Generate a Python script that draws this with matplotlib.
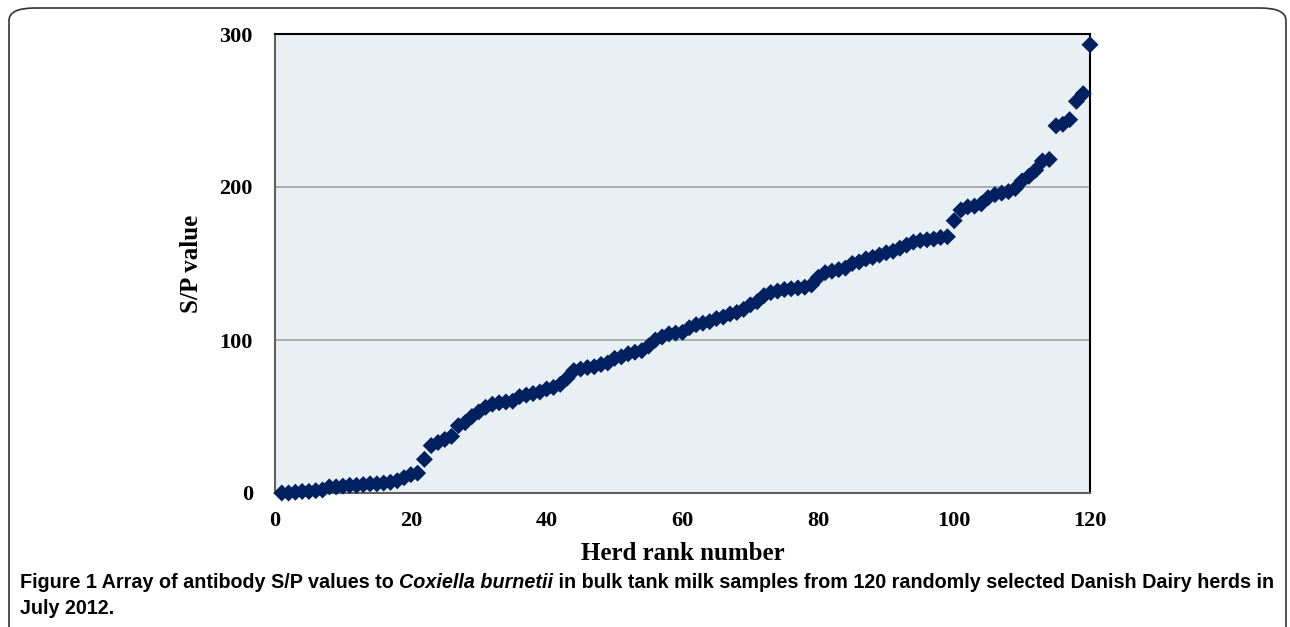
import matplotlib.pyplot as plt
import numpy as np
from matplotlib.patches import FancyBboxPatch

# S/P values for the 120 herds, sorted by rank
herd_rank = np.arange(1, 121)
sp_value = [
    0, 0, 0.5, 1, 1, 1.5, 2, 4, 4, 4.5,
    5, 5, 5.5, 6, 6, 6.5, 7, 8, 10, 12,
    13, 22, 31, 33, 35, 37, 44, 46, 50, 53,
    56, 58, 59, 59.5, 60, 63, 64, 65, 66, 68,
    69, 71, 75, 80, 81, 82, 82.5, 84, 85, 88,
    89, 91, 92, 93, 96, 100, 102, 104, 104.5, 105,
    108, 110, 111, 112, 114, 115, 117, 118, 120, 123,
    125, 129, 131, 132, 133, 133.5, 134, 134.5, 136, 141,
    144, 145, 146, 147, 150, 151, 153, 154, 155.5, 157,
    158, 160, 162, 164, 165, 165.5, 166, 167, 167.5, 178,
    185, 187, 187.5, 189, 193, 195, 196, 197, 199, 204,
    207, 211, 217, 218, 240, 241, 244, 256, 261, 293,
]
x_ticks = [0, 20, 40, 60, 80, 100, 120]
y_ticks = [0, 100, 200, 300]

serif = ['Liberation Serif', 'DejaVu Serif']
sans = ['Liberation Sans', 'DejaVu Sans']

fig = plt.figure(figsize=(12.9, 6.27), dpi=100)

# rounded frame around the whole figure panel
frame = FancyBboxPatch((9 / 1290, -0.05), 1277 / 1290, 1.05 - 8 / 627,
                       boxstyle='round,pad=0,rounding_size=0.02',
                       transform=fig.transFigure, fill=False,
                       edgecolor='#333333', linewidth=1.2)
fig.patches.append(frame)

ax = fig.add_axes([275 / 1290, 1 - 493 / 627, 815 / 1290, 459 / 627])
ax.set_facecolor('#e9f0f4')

ax.scatter(herd_rank, sp_value, marker='D', s=75, color='#002060',
           edgecolors='none', zorder=3, clip_on=False)

ax.set_xlim(0, 120)
ax.set_ylim(0, 300)
ax.set_xticks(x_ticks)
ax.set_yticks(y_ticks)
ax.tick_params(length=0)
ax.tick_params(axis='x', pad=13)
ax.tick_params(axis='y', pad=16)
for lbl in ax.get_xticklabels() + ax.get_yticklabels():
    lbl.set_fontfamily(serif)
    lbl.set_fontweight('bold')
    lbl.set_fontsize(16)

ax.yaxis.grid(True, color='#a0a0a0', linewidth=1.2)
ax.set_axisbelow(True)
for side in ['left', 'bottom']:
    ax.spines[side].set_color('#606060')
    ax.spines[side].set_linewidth(1.5)
for side in ['top', 'right']:
    ax.spines[side].set_color('black')
    ax.spines[side].set_linewidth(1.5)

ax.set_xlabel('Herd rank number', family=serif, fontweight='bold',
              fontsize=18, labelpad=8)
ax.set_ylabel('S/P value', family=serif, fontweight='bold',
              fontsize=18, labelpad=12)

# caption, built from pieces so the species name can be italic
cap_size = 14.25
pieces = [
    ('Figure 1 Array of antibody S/P values to ', 'normal'),
    ('Coxiella burnetii', 'italic'),
    (' in bulk tank milk samples from 120 randomly selected Danish Dairy herds in', 'normal'),
]
renderer = fig.canvas.get_renderer()
x0 = 20
for txt, style in pieces:
    t = fig.text(x0 / 1290, 1 - 583 / 627, txt, family=sans, fontweight='bold',
                 style=style, fontsize=cap_size, va='center', ha='left')
    x0 += t.get_window_extent(renderer).width
fig.text(20 / 1290, 1 - 609 / 627, 'July 2012.',
         family=sans, fontweight='bold', fontsize=cap_size, va='center', ha='left')

fig.savefig('out.png', dpi=100)
